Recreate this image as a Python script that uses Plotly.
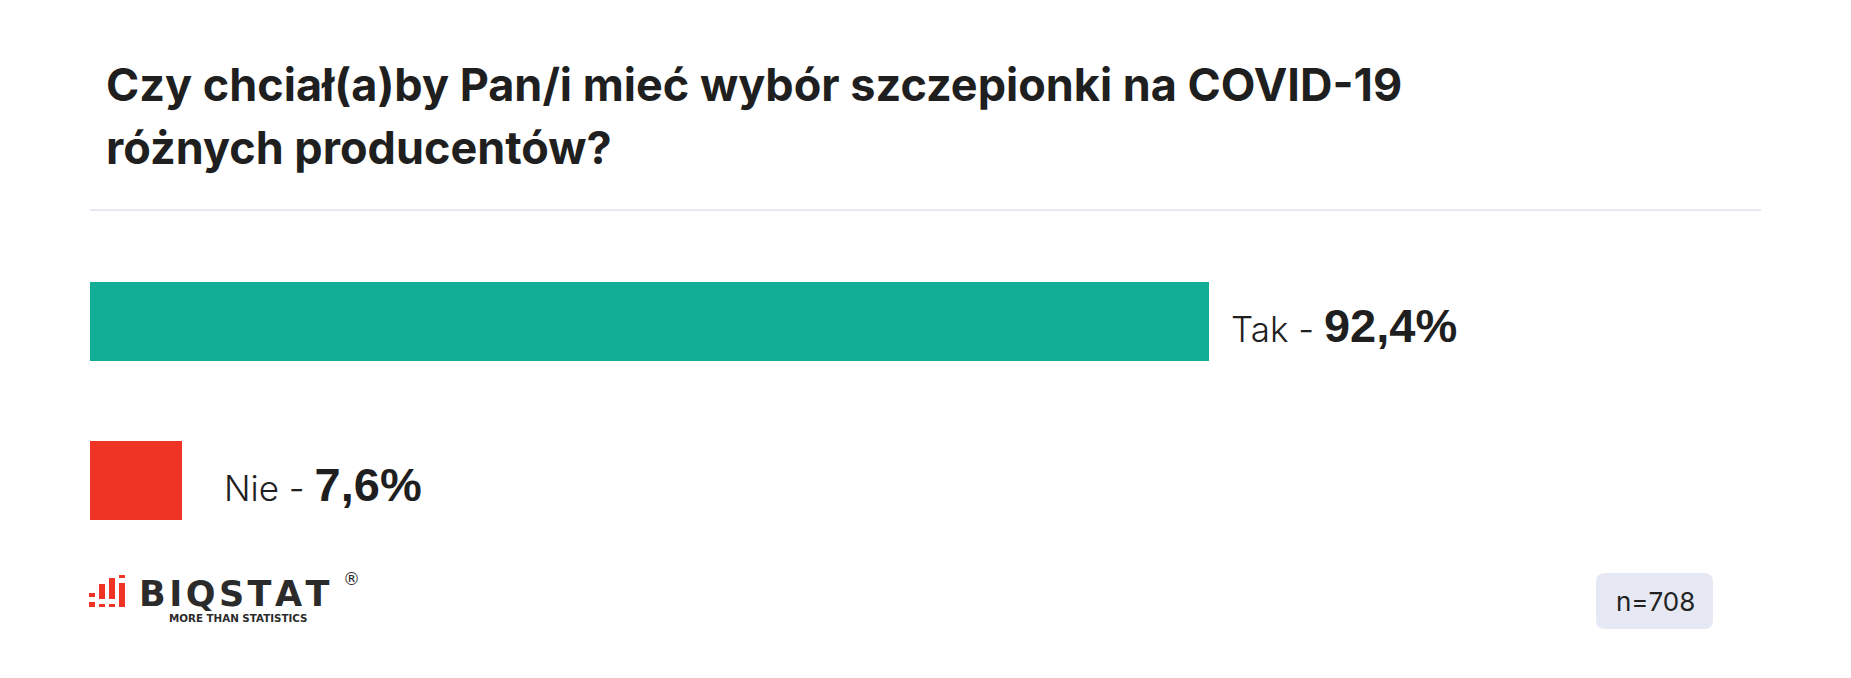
import plotly.graph_objects as go

# Survey answers and their shares (%)
categories = ["Tak", "Nie"]
shares = [92.4, 7.6]
sample_size = 708
title_lines = [
    "Czy chciał(a)by Pan/i mieć wybór szczepionki na COVID-19",
    "różnych producentów?",
]

bar_colors = ["#13ae96", "#ef3425"]
label_gaps = [20, 40]

W, H = 1851, 678
ML, MR, MT, MB = 90, 550, 242, 118
PW, PH = W - ML - MR, H - MT - MB


def px(x):
    return (x - ML) / PW


def py(y):
    return (H - MB - y) / PH


def fmt(v):
    return f"{v:.1f}".replace(".", ",") + "%"


fig = go.Figure()
fig.add_trace(go.Bar(
    x=shares, y=categories, orientation="h",
    marker=dict(color=bar_colors, line=dict(width=0)),
    width=0.503, hoverinfo="skip",
))

annotations = []
for cat, val, gap in zip(categories, shares, label_gaps):
    annotations.append(dict(
        x=val, y=cat, xref="x", yref="y", xanchor="left", yanchor="middle",
        xshift=gap, yshift=-4, showarrow=False,
        text=(f"<span style='font-size:35px'>{cat} - </span>"
              f"<b><span style='font-family:Liberation Sans;font-size:47px'>"
              f"{fmt(val)}</span></b>"),
        font=dict(family="Inter", size=35, color="#1f1f1f", weight=300),
    ))

# Two-line title
for i, line in enumerate(title_lines):
    annotations.append(dict(
        x=px(104), y=py(84 + 63 * i), xref="paper", yref="paper",
        xanchor="left", yanchor="middle", showarrow=False, text=line,
        font=dict(family="Inter", size=45, color="#1f1f1f", weight=700),
    ))

# Logo wordmark
hair = "\u200a"
annotations += [
    dict(x=px(137), y=py(594), xref="paper", yref="paper", xanchor="left",
         yanchor="middle", showarrow=False,
         text="<b>" + hair.join("BIQSTAT") + "</b>",
         font=dict(family="DejaVu Sans", size=35, color="#2b2b2b")),
    dict(x=px(238), y=py(618), xref="paper", yref="paper", xanchor="center",
         yanchor="middle", showarrow=False, text="<b>MORE THAN STATISTICS</b>",
         font=dict(family="DejaVu Sans", size=10.3, color="#2b2b2b")),
    dict(x=px(351), y=py(579), xref="paper", yref="paper", xanchor="center",
         yanchor="middle", showarrow=False, text="®",
         font=dict(family="DejaVu Sans", size=17, color="#2b2b2b")),
    dict(x=px(1655), y=py(601), xref="paper", yref="paper", xanchor="center",
         yanchor="middle", showarrow=False, text=f"n={sample_size}",
         font=dict(family="Inter", size=26, color="#222222")),
]

shapes = [
    # separator under the title
    dict(type="line", xref="paper", yref="paper", x0=px(90), x1=px(1761),
         y0=py(210), y1=py(210), line=dict(color="#e6e8f4", width=2)),
]

# rounded badge for the sample size
x0, x1, y0, y1, r = 1596, 1713, 573, 629, 9
path = (f"M {px(x0 + r)} {py(y0)} L {px(x1 - r)} {py(y0)} "
        f"Q {px(x1)} {py(y0)} {px(x1)} {py(y0 + r)} L {px(x1)} {py(y1 - r)} "
        f"Q {px(x1)} {py(y1)} {px(x1 - r)} {py(y1)} L {px(x0 + r)} {py(y1)} "
        f"Q {px(x0)} {py(y1)} {px(x0)} {py(y1 - r)} L {px(x0)} {py(y0 + r)} "
        f"Q {px(x0)} {py(y0)} {px(x0 + r)} {py(y0)} Z")
shapes.append(dict(type="path", xref="paper", yref="paper", path=path,
                   fillcolor="#e6e8f3", line=dict(width=0), layer="below"))

# logo icon: red rounded strokes and dots
strokes = [
    (92, 593, 597), (92, 602, 607),
    (102, 584, 599), (102, 604, 607),
    (112, 578, 599), (112, 604, 607),
    (122, 575, 578), (122, 583, 607),
]
for xx, top, bot in strokes:
    shapes.append(dict(type="line", xref="paper", yref="paper",
                       x0=px(xx), x1=px(xx), y0=py(top), y1=py(bot),
                       line=dict(color="#ef3425", width=6)))

fig.update_layout(
    width=W, height=H,
    margin=dict(l=ML, r=MR, t=MT, b=MB, pad=0),
    paper_bgcolor="white", plot_bgcolor="white",
    showlegend=False, bargap=0,
    xaxis=dict(range=[0, 100], visible=False, fixedrange=True),
    yaxis=dict(type="category", categoryarray=categories, range=[1.5, -0.5],
               visible=False, fixedrange=True),
    annotations=annotations, shapes=shapes,
)

fig.write_html("out.html", config={"displayModeBar": False})
